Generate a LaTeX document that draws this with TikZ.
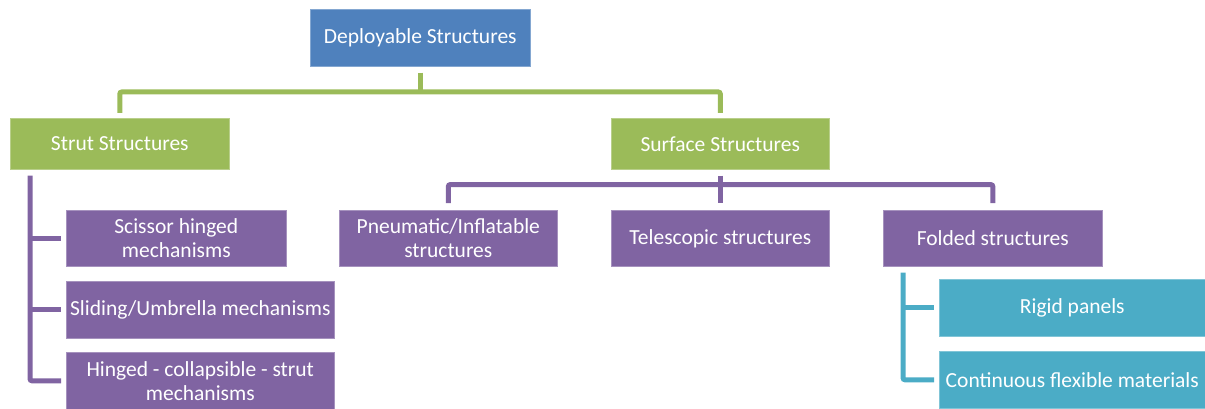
\documentclass[tikz,border=0pt]{standalone}
\usepackage{fontspec}
\setmainfont{Carlito}
\usetikzlibrary{positioning}
\definecolor{rootblue}{HTML}{4F81BD}
\definecolor{levelgreen}{HTML}{9BBB59}
\definecolor{leafpurple}{HTML}{8064A2}
\definecolor{subteal}{HTML}{4BACC6}

\begin{document}
\begin{tikzpicture}[
      x=1pt, y=-1pt, % <-- PIXEL-LIKE UNITS, Y DOWNWARDS
      box/.style={anchor=north west, align=center, text=white, inner sep=1pt, line width=0.6pt,
        font=\fontsize{21.5}{24}\selectfont},
      boxsize/.style 2 args={minimum width=#1pt, minimum height=#2pt},
      rootbox/.style={box, fill=rootblue, draw=rootblue!70!white},
      greenbox/.style={box, fill=levelgreen, draw=levelgreen!70!white},
      purplebox/.style={box, fill=leafpurple, draw=leafpurple!70!white},
      tealbox/.style={box, fill=subteal, draw=subteal!70!white},
      link/.style={line width=5pt, rounded corners=2pt},
      glink/.style={link, draw=levelgreen},
      plink/.style={link, draw=leafpurple},
      tlink/.style={link, draw=subteal}
    ]
    \useasboundingbox (0,0) rectangle (1205,409);

    % Top level
    \node[rootbox, boxsize={220}{57}] (root) at (310,9) {Deployable Structures};

    % Second level
    \node[greenbox, boxsize={219}{51}] (strut) at (10,118) {Strut Structures};
    \node[greenbox, boxsize={218}{51}] (surface) at (611,118) {Surface Structures};

    % Strut branch
    \node[purplebox, boxsize={220}{56}] (scissor) at (66,210) {Scissor hinged\\mechanisms};
    \node[purplebox, boxsize={268}{57}] (sliding) at (66,281) {Sliding/Umbrella mechanisms};
    \node[purplebox, boxsize={268}{57}] (hinged) at (66,352) {Hinged - collapsible - strut\\mechanisms};

    % Surface branch
    \node[purplebox, boxsize={218}{56}] (pneu) at (339,210) {Pneumatic/Inflatable\\structures};
    \node[purplebox, boxsize={218}{56}] (tele) at (611,210) {Telescopic structures};
    \node[purplebox, boxsize={219}{56}] (folded) at (883,210) {Folded structures};

    % Folded branch
    \node[tealbox, boxsize={266}{57}] (rigid) at (939,279) {Rigid panels};
    \node[tealbox, boxsize={266}{57}] (flexible) at (939,351) {Continuous flexible materials};

    % Helper points for the bars
    \coordinate (strutbar) at ([xshift=20pt,yshift=-6pt]strut.south west);
    \coordinate (surfbar) at ([yshift=-15pt]surface.south);
    \coordinate (foldbar) at ([xshift=20pt,yshift=-6pt]folded.south west);

    % Green connectors
    \draw[glink] ([yshift=-6pt]root.south) -- ([yshift=-26pt]root.south);
    \draw[glink] ([yshift=5pt]strut.north) -- ++(0,-21) -| ([yshift=5pt]surface.north);

    % Purple connectors, strut side
    \draw[plink] (strutbar) |- ([xshift=-5pt]hinged.west);
    \draw[plink] (strutbar |- scissor.west) -- ([xshift=-5pt]scissor.west);
    \draw[plink] (strutbar |- sliding.west) -- ([xshift=-5pt]sliding.west);

    % Purple connectors, surface side
    \draw[plink] ([yshift=7pt]pneu.north) |- (surfbar) -| ([yshift=7pt]folded.north);
    \draw[plink] ([yshift=-6pt]surface.south) -- ([yshift=7pt]tele.north);

    % Teal connectors
    \draw[tlink] (foldbar) |- ([xshift=-5pt]flexible.west);
    \draw[tlink] (foldbar |- rigid.west) -- ([xshift=-5pt]rigid.west);

  \end{tikzpicture}
\end{document}
